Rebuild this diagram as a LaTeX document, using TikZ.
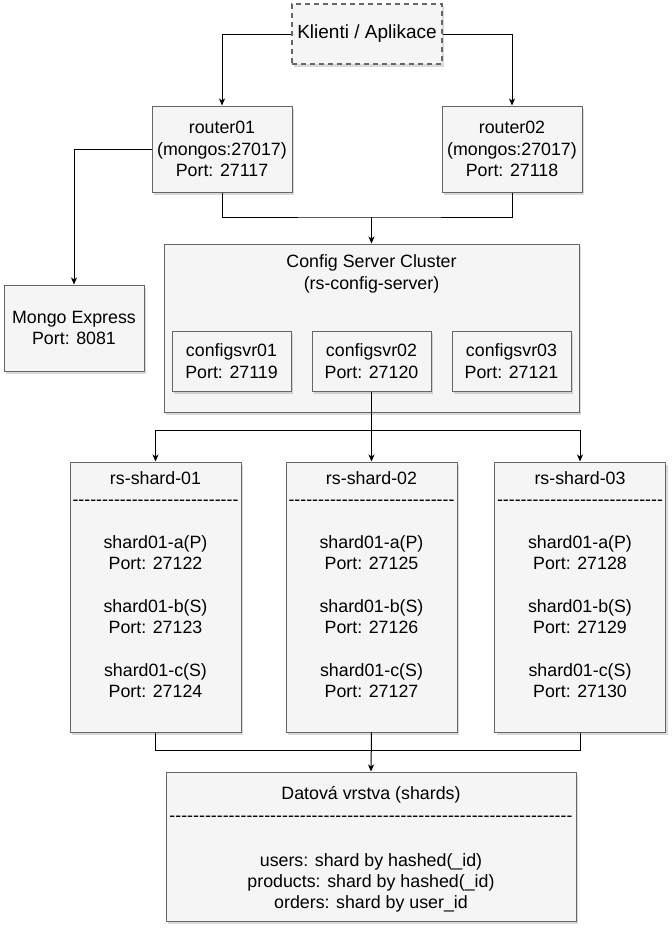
\documentclass[tikz,border=0pt]{standalone}
\usepackage{fontspec}
\setmainfont{Liberation Sans}[Ligatures=TeXOff]
\usetikzlibrary{arrows.meta,shadows}
\definecolor{boxfill}{HTML}{F5F5F5}
\definecolor{boxline}{HTML}{666666}
\begin{document}
\begin{tikzpicture}[x=1pt,y=-1pt,
    txt/.style={font=\fontsize{17.8}{21.3}\selectfont,align=center,inner sep=0pt},
    box/.style={txt,draw=boxline,fill=boxfill,line width=1pt,
        drop shadow={shadow xshift=2pt,shadow yshift=-2.5pt,opacity=0.3}},
    conn/.style={line width=1pt},
    arr/.style={conn,-{Stealth[length=7pt,width=6pt,inset=2pt]}}]
            \useasboundingbox (0,0) rectangle (672,930);

            \node[box,line width=1.6pt,dash pattern=on 5pt off 4pt,minimum width=150pt,minimum height=60pt,
                  font=\fontsize{19}{22}\selectfont] (kl) at (367,34) {Klienti / Aplikace};

            \node[box,minimum width=140pt,minimum height=86pt] (r1) at (222,149) {router01\\(mongos:27017)\\Port: 27117};
            \node[box,minimum width=140pt,minimum height=86pt] (r2) at (512,149) {router02\\(mongos:27017)\\Port: 27118};
            \node[box,minimum width=140pt,minimum height=86pt] (mongo) at (74,328) {Mongo Express\\Port: 8081};

            \node[box,minimum width=415pt,minimum height=168pt] (cfg) at (371.5,328) {};
            \node[txt] (cfgt) at (371.5,274) {Config Server Cluster\\(rs-config-server)};
            \node[box,minimum width=119pt,minimum height=60pt] (c1) at (231.5,361) {configsvr01\\Port: 27119};
            \node[box,minimum width=119pt,minimum height=60pt] (c2) at (371.5,361) {configsvr02\\Port: 27120};
            \node[box,minimum width=119pt,minimum height=60pt] (c3) at (511.5,361) {configsvr03\\Port: 27121};

            \node[box,minimum width=171pt,minimum height=270pt] (s1) at (155.5,597) {};
            \node[box,minimum width=171pt,minimum height=270pt] (s2) at (371.5,597) {};
            \node[box,minimum width=171pt,minimum height=270pt] (s3) at (580,597) {};
            \node[txt] (s1t) at (155.5,584.5) {rs-shard-01\\----------------------------\\[21.3pt]shard01-a(P)\\Port: 27122\\[21.3pt]shard01-b(S)\\Port: 27123\\[21.3pt]shard01-c(S)\\Port: 27124};
            \node[txt] (s2t) at (371.5,584.5) {rs-shard-02\\----------------------------\\[21.3pt]shard01-a(P)\\Port: 27125\\[21.3pt]shard01-b(S)\\Port: 27126\\[21.3pt]shard01-c(S)\\Port: 27127};
            \node[txt] (s3t) at (580,584.5) {rs-shard-03\\----------------------------\\[21.3pt]shard01-a(P)\\Port: 27128\\[21.3pt]shard01-b(S)\\Port: 27129\\[21.3pt]shard01-c(S)\\Port: 27130};

            \node[box,minimum width=410pt,minimum height=149pt] (dat) at (371,846.5) {};
            \node[txt] (datt) at (371,804) {Datová vrstva (shards)\\--------------------------------------------------------------------};
            \node[txt] (datl) at (371,883) {users: shard by hashed(\_id)\\products: shard by hashed(\_id)\\orders: shard by user\_id};

            \coordinate (rj) at (371.5,217);
            \coordinate (sj) at (371.5,430);
            \coordinate (dj) at (371.5,750);

            \draw[arr] (kl.west) -| (r1.north);
            \draw[arr] (kl.east) -| (r2.north);
            \draw[arr] (r1.west) -| (mongo.north);
            \draw[conn] (r1.south) |- (rj) -| (r2.south);
            \draw[arr] (rj) -- (cfg.north);

            \draw[conn] (c2.south) -- (sj);
            \draw[arr] (sj) -| (s1.north);
            \draw[arr] (sj) -| (s3.north);
            \draw[arr] (sj) -- (s2.north);

            \draw[conn] (s1.south) |- (dj) -| (s3.south);
            \draw[arr] (s2.south) -- (dat.north);

        \end{tikzpicture}
\end{document}
